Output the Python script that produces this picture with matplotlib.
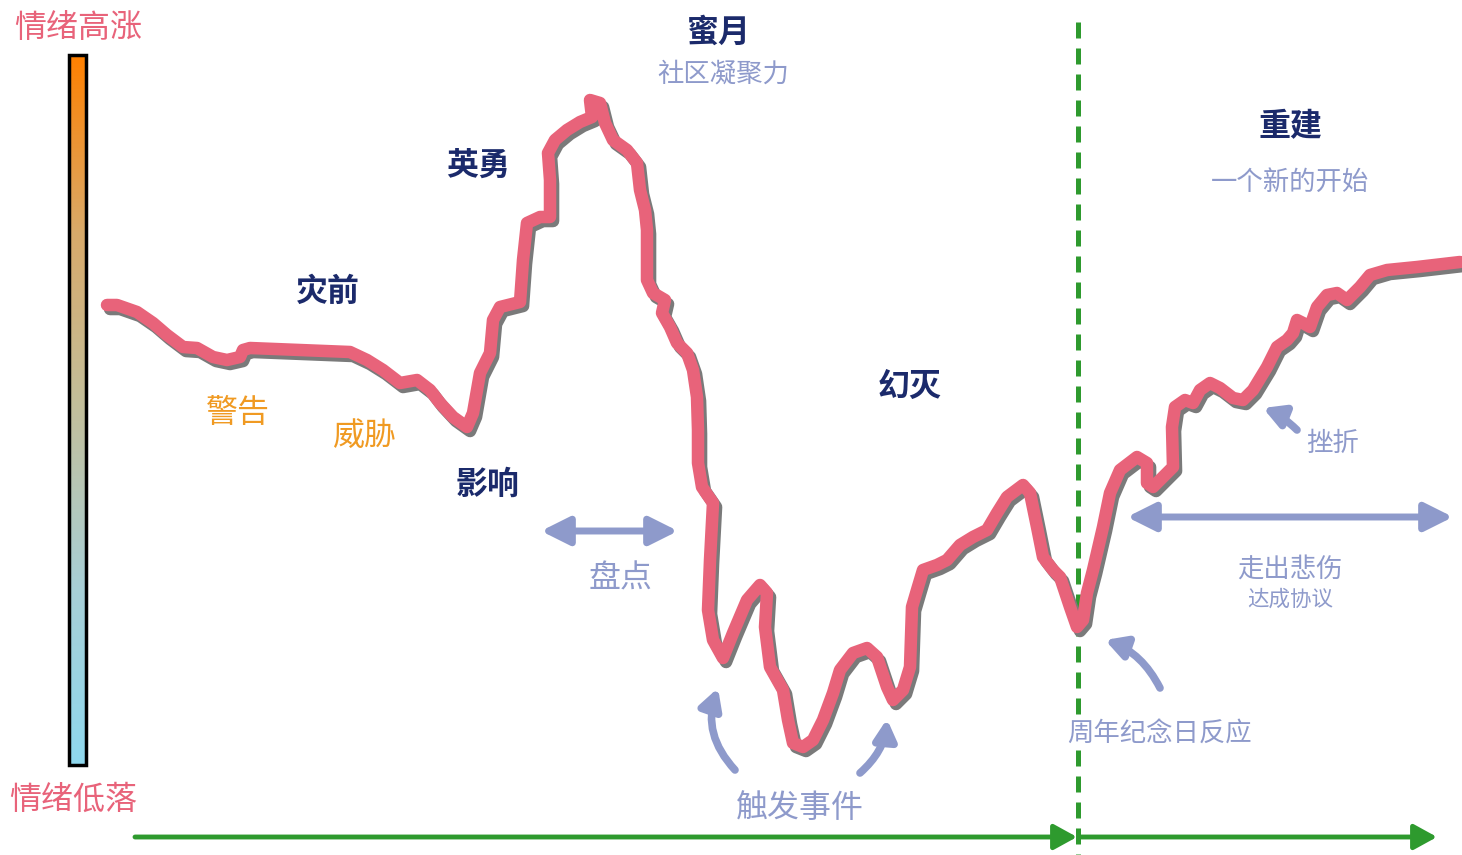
import numpy as np
import matplotlib
matplotlib.use("Agg")
import matplotlib.pyplot as plt
import matplotlib.patheffects as pe
from matplotlib.patches import FancyArrowPatch, Rectangle
from matplotlib.colors import LinearSegmentedColormap

plt.rcParams['font.family'] = ['Noto Sans CJK SC', 'DejaVu Sans']

# 情绪曲线（横坐标：时间，纵坐标：画面位置，越小情绪越高）
time_x = [107, 117, 137, 153, 167, 183, 197, 213, 227, 240, 243, 250, 300, 350,
          367, 383, 400, 417, 430, 440, 453, 467, 473, 480, 490, 493, 500, 520,
          523, 527, 540, 550, 550, 548, 555, 567, 580, 592, 590, 600, 605, 613,
          627, 637, 640, 645, 647, 647, 653, 665, 662, 670, 677, 687, 693, 697,
          698, 698, 702, 713, 710, 708, 713, 723, 733, 747, 760, 767, 765, 770,
          783, 788, 793, 803, 813, 823, 833, 840, 853, 867, 877, 887, 893, 903,
          910, 912, 917, 923, 937, 947, 960, 973, 987, 997, 1007, 1023, 1030,
          1037, 1043, 1053, 1060, 1070, 1077, 1083, 1087, 1093, 1103, 1110, 1120,
          1137, 1147, 1147, 1153, 1167, 1173, 1172, 1175, 1185, 1193, 1200, 1210,
          1220, 1233, 1243, 1253, 1267, 1277, 1287, 1293, 1297, 1303, 1310, 1317,
          1327, 1337, 1347, 1360, 1370, 1387, 1417, 1460]
mood_y = [305, 305, 312, 323, 335, 347, 348, 357, 360, 357, 350, 348, 350, 352,
          360, 370, 383, 380, 390, 403, 417, 427, 413, 373, 353, 320, 307, 302,
          260, 223, 217, 217, 180, 153, 140, 130, 122, 117, 100, 103, 123, 140,
          150, 163, 190, 210, 230, 280, 293, 300, 313, 327, 343, 353, 370, 397,
          430, 463, 487, 503, 560, 610, 640, 658, 633, 600, 585, 593, 627, 667,
          690, 720, 743, 747, 740, 720, 693, 670, 653, 648, 657, 687, 700, 690,
          667, 607, 590, 570, 565, 560, 545, 537, 530, 513, 497, 485, 493,
          527, 557, 570, 577, 607, 627, 620, 593, 570, 527, 493, 470,
          457, 463, 483, 487, 473, 467, 427, 407, 400, 403, 390, 383,
          388, 398, 400, 390, 367, 347, 340, 333, 320, 323, 327, 307,
          295, 293, 300, 287, 275, 270, 267, 262]

# 阶段标签
stage_labels = ['蜜月', '英勇', '灾前', '幻灭', '影响', '重建']
stage_pos = [(719, 33), (478, 166), (328, 292), (910, 387), (488, 485), (1290, 127)]
warn_labels = ['警告', '威胁']
warn_pos = [(238, 413), (365, 436)]
note_labels = ['社区凝聚力', '一个新的开始', '挫折', '走出悲伤']
note_pos = [(723, 74), (1290, 182), (1332, 443), (1290, 569)]
big_notes = ['盘点', '触发事件']
big_pos = [(621, 579), (800, 808)]

navy = '#1b2a6b'
pink = '#e8637a'
lilac = '#8e9acb'
orange = '#f09a22'
green = '#2e9a2e'

fig = plt.figure(figsize=(14.62, 8.55), dpi=100)
ax = fig.add_axes([0, 0, 1, 1])
ax.set_xlim(0, 1462)
ax.set_ylim(855, 0)
ax.axis('off')

# 左侧渐变条
cmap = LinearSegmentedColormap.from_list('mood', ['#ff8000', '#d8aa6a', '#c2bf9c', '#a8cfd6', '#8fd8ee'])
grad = np.linspace(0, 1, 256).reshape(-1, 1)
ax.imshow(grad, cmap=cmap, aspect='auto', extent=[69, 86, 765, 55], zorder=1)
ax.add_patch(Rectangle((69, 55), 17, 710, fill=False, ec='black', lw=2.5, zorder=2))
ax.text(78, 28, '情绪高涨', color=pink, fontsize=23, ha='center', va='center')
ax.text(73, 800, '情绪低落', color=pink, fontsize=23, ha='center', va='center')

# 时间轴（绿色）
ax.plot([1078, 1078], [22, 855], color=green, lw=3.6, dashes=(3.2, 2.0), zorder=2)
for x0, x1 in [(135, 1077), (1080, 1437)]:
    ax.add_patch(FancyArrowPatch((x0, 837), (x1, 837), arrowstyle='-|>,head_length=1.0,head_width=0.55',
                                 mutation_scale=14, color=green, lw=3.5, shrinkA=0, shrinkB=0, zorder=2))

# 情绪曲线
ax.plot(time_x, mood_y, color=pink, lw=9, solid_capstyle='round', solid_joinstyle='round', zorder=4,
        path_effects=[pe.SimpleLineShadow(offset=(2.2, -2.9), shadow_color='#7a7a7a', alpha=1.0), pe.Normal()])

# 双向箭头
for x0, x1, y in [(541, 678, 531), (1127, 1453, 517)]:
    ax.add_patch(FancyArrowPatch((x0, y), (x1, y), arrowstyle='<|-|>,head_length=1.0,head_width=0.5',
                                 mutation_scale=17, color=lilac, lw=5, shrinkA=0, shrinkB=0, zorder=3))

# 弯曲箭头
curved = [((735, 770), (718, 688), -0.3), ((860, 773), (887, 719), 0.2),
          ((1160, 688), (1105, 640), 0.2), ((1297, 430), (1263, 408), 0.1)]
for a, b, rad in curved:
    ax.add_patch(FancyArrowPatch(a, b, connectionstyle=f'arc3,rad={rad}',
                                 arrowstyle='-|>,head_length=1.0,head_width=0.55',
                                 mutation_scale=12, color=lilac, lw=5.5, shrinkA=0, shrinkB=0, zorder=3))

for t, (x, y) in zip(stage_labels, stage_pos):
    ax.text(x, y, t, color=navy, fontsize=23, fontweight='heavy', ha='center', va='center', zorder=5)
for t, (x, y) in zip(warn_labels, warn_pos):
    ax.text(x, y, t, color=orange, fontsize=23, ha='center', va='center', zorder=5)
for t, (x, y) in zip(note_labels, note_pos):
    ax.text(x, y, t, color=lilac, fontsize=19, ha='center', va='center', zorder=5)
for t, (x, y) in zip(big_notes, big_pos):
    ax.text(x, y, t, color=lilac, fontsize=23, ha='center', va='center', zorder=5)
ax.text(1159, 734, '周年纪念日反应', color=lilac, fontsize=19, ha='center', va='center', zorder=5,
        bbox=dict(boxstyle='square,pad=0.05', fc='white', ec='none'))
ax.text(1290, 600, '达成协议', color=lilac, fontsize=15.5, ha='center', va='center', zorder=5)

fig.savefig('out.png', dpi=100)
